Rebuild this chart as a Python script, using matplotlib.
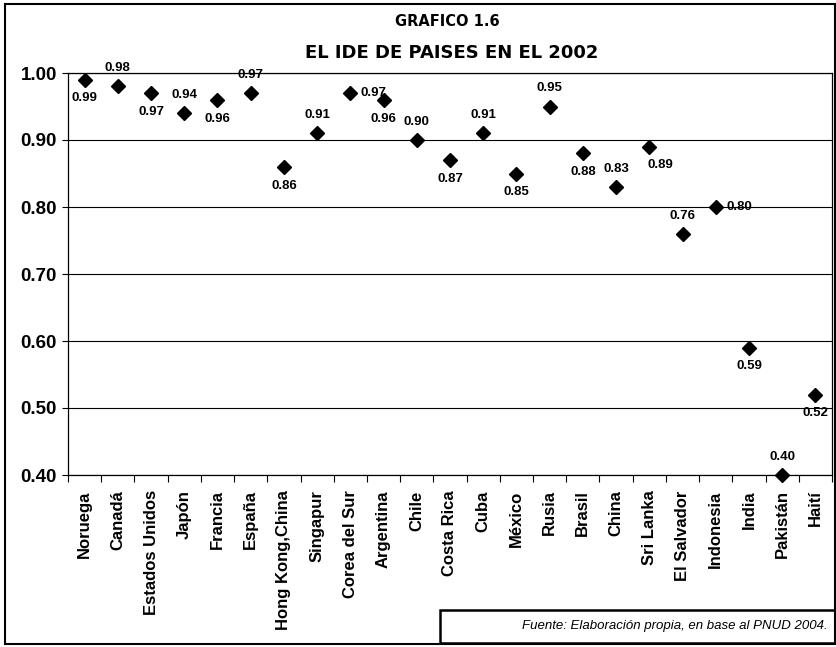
import numpy as np
import matplotlib
matplotlib.use("Agg")
import matplotlib.pyplot as plt
from matplotlib.patches import Rectangle

plt.rcParams['font.family'] = ['Liberation Sans', 'DejaVu Sans']

# datos: IDH 2002 por pais
paises = ["Noruega", "Canadá", "Estados Unidos", "Japón", "Francia", "España",
          "Hong Kong,China", "Singapur", "Corea del Sur", "Argentina", "Chile",
          "Costa Rica", "Cuba", "México", "Rusia", "Brasil", "China", "Sri Lanka",
          "El Salvador", "Indonesia", "India", "Pakistán", "Haití"]
ide = [0.99, 0.98, 0.97, 0.94, 0.96, 0.97, 0.86, 0.91, 0.97, 0.96, 0.90,
       0.87, 0.91, 0.85, 0.95, 0.88, 0.83, 0.89, 0.76, 0.80, 0.59, 0.40, 0.52]

# posicion de cada etiqueta respecto al marcador
pos_etiqueta = ["below", "above", "below", "above", "below", "above", "below",
                "above", "right", "below", "above", "below", "above", "below",
                "above", "below", "above", "below_right", "above", "right",
                "below", "above", "below"]
offsets = {"below": (0, -13.5), "above": (0, 13), "right": (17, 0),
           "below_right": (8, -13.5)}

y_ticks = [0.40, 0.50, 0.60, 0.70, 0.80, 0.90, 1.00]

fig = plt.figure(figsize=(8.37, 6.47), dpi=100)
ax = fig.add_axes([68/837, 1 - 475/647, (832 - 68)/837, (475 - 73)/647])

x = np.arange(len(paises))
ax.plot(x, ide, linestyle="none", marker="D", markersize=7.5, color="black",
        clip_on=False, zorder=3)

for xi, v, p in zip(x, ide, pos_etiqueta):
    dx, dy = offsets[p]
    ax.annotate(f"{v:.2f}", (xi, v), xytext=(dx, dy), textcoords="offset points",
                ha="center", va="center", fontsize=9.5, fontweight="bold",
                annotation_clip=False, zorder=4)

ax.set_xlim(-0.5, len(paises) - 0.5)
ax.set_ylim(0.40, 1.00)
ax.set_yticks(y_ticks)
ax.set_yticklabels([f"{t:.2f}" for t in y_ticks], fontsize=13.5, fontweight="bold")
ax.tick_params(axis="y", length=4, width=0.8, pad=4)

ax.set_xticks(x)
ax.set_xticklabels(paises, rotation=90, fontsize=12, fontweight="bold")
ax.tick_params(axis="x", which="major", length=0, pad=11)
ax.set_xticks(np.arange(-0.5, len(paises), 1), minor=True)
ax.tick_params(axis="x", which="minor", length=5, width=0.8)

ax.grid(axis="y", color="black", linewidth=0.8)
ax.set_axisbelow(True)
for s in ax.spines.values():
    s.set_linewidth(0.9)

# titulos
fig.text(0.535, 1 - 22/647, "GRAFICO 1.6", ha="center", va="center",
         fontsize=10.5, fontweight="bold", family="DejaVu Sans")
fig.text(0.54, 1 - 53/647, "EL IDE DE PAISES EN EL 2002", ha="center",
         va="center", fontsize=13, fontweight="bold", family="DejaVu Sans")

# marco exterior
fig.patches.append(Rectangle((5/837, 3/647), 830/837, 640/647,
                             transform=fig.transFigure, fill=False,
                             linewidth=1.5, edgecolor="black"))

# recuadro de la fuente
fig.patches.append(Rectangle((440/837, 4/647), 395/837, 33/647,
                             transform=fig.transFigure, fill=False,
                             linewidth=1.8, edgecolor="black"))
fig.text(828/837, 1 - 626/647, "Fuente: Elaboración propia, en base al PNUD 2004.",
         ha="right", va="center", fontsize=9.5, style="italic")

fig.savefig("out.png", dpi=100)
